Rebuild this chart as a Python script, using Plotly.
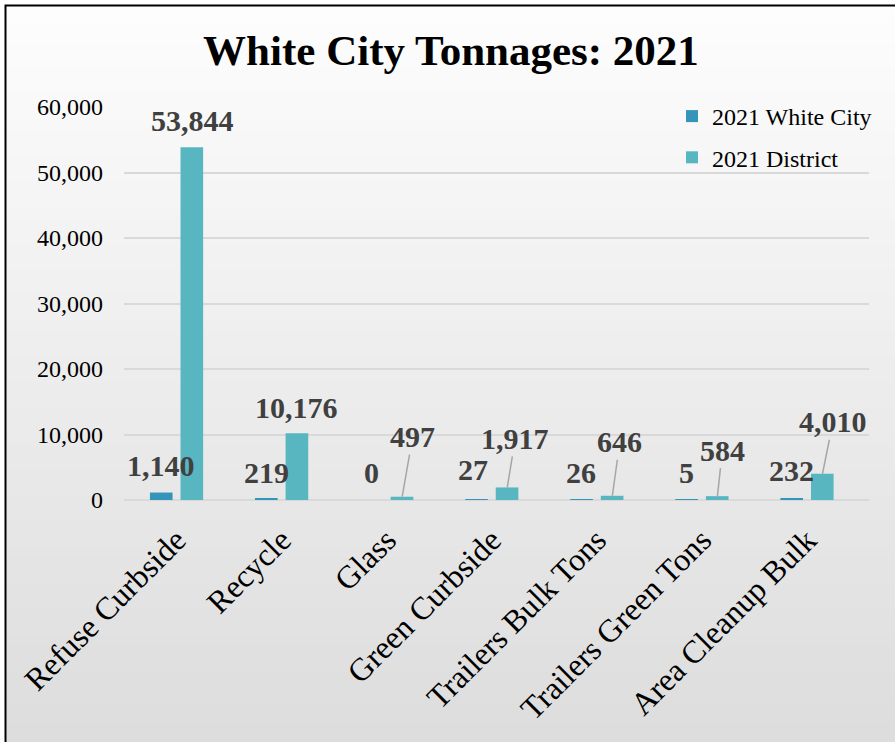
import plotly.graph_objects as go

categories = ["Refuse Curbside", "Recycle", "Glass", "Green Curbside",
              "Trailers Bulk Tons", "Trailers Green Tons", "Area Cleanup Bulk"]
white_city = [1140, 219, 0, 27, 26, 5, 232]
district = [53844, 10176, 497, 1917, 646, 584, 4010]
y_ticks = [0, 10000, 20000, 30000, 40000, 50000, 60000]

# label placement (pixel offsets from bar top), styling only
wc_dx = [0, 0, 0, -3, 0, 0, 0]
wc_dy = [-27, -26, -28, -30, -27, -27, -28]
d_dx = [0, -1, 10.5, 8, 7.5, 5, 10.5]
d_dy = [-27, -26, -60, -49, -54, -46, -52]
d_leader = [False, False, True, True, True, True, True]

W, H = 895, 742
L, R, T, B = 124, 869, 107, 500
FONT = "Liberation Serif, Times New Roman, serif"
C_WC = "#3494BA"
C_D = "#58B6C0"


def px_x(p):
    return (p - L) / (R - L)


def px_y(p):
    return (B - p) / (B - T)


fig = go.Figure()
fig.add_trace(go.Bar(x=categories, y=white_city, name="2021 White City",
                     marker=dict(color=C_WC, line=dict(width=0)), legendgroup="a"))
fig.add_trace(go.Bar(x=categories, y=district, name="2021 District",
                     marker=dict(color=C_D, line=dict(width=0)), legendgroup="b"))

shapes = []
# gradient background
n = 60
top, bot = 5, 760
for i in range(n):
    y0 = top + (bot - top) * i / n
    y1 = top + (bot - top) * (i + 1) / n + 1
    t = i / (n - 1)
    g = round(253 - 33 * t)
    shapes.append(dict(type="rect", xref="paper", yref="paper", layer="below",
                       x0=px_x(5), x1=px_x(W + 40), y0=px_y(y0), y1=px_y(y1),
                       fillcolor=f"rgb({g},{g},{g})", line=dict(width=0)))
# frame
shapes.append(dict(type="rect", xref="paper", yref="paper", layer="above",
                   x0=px_x(5.5), x1=px_x(W + 40), y0=px_y(5.5), y1=px_y(H + 40),
                   line=dict(color="black", width=2), fillcolor="rgba(0,0,0,0)"))

annotations = []
off = 15.5
lab_font = dict(family=FONT, size=30, color="#404040")
for i, c in enumerate(categories):
    annotations.append(dict(x=c, y=white_city[i], xref="x", yref="y",
                            text=f"<b>{white_city[i]:,}</b>", showarrow=False,
                            xshift=-off + wc_dx[i], yshift=-wc_dy[i],
                            font=lab_font))
    if d_leader[i]:
        annotations.append(dict(x=c, y=district[i], xref="x", yref="y",
                                text=f"<b>{district[i]:,}</b>", showarrow=True,
                                arrowhead=0, arrowwidth=1.5, arrowcolor="#a6a6a6",
                                ax=d_dx[i], ay=d_dy[i], standoff=0,
                                xshift=off, font=lab_font))
    else:
        annotations.append(dict(x=c, y=district[i], xref="x", yref="y",
                                text=f"<b>{district[i]:,}</b>", showarrow=False,
                                xshift=off + d_dx[i], yshift=-d_dy[i],
                                font=lab_font))

fig.update_layout(
    width=W, height=H,
    margin=dict(l=L, r=W - R, t=T, b=H - B, pad=0, autoexpand=False),
    paper_bgcolor="white",
    plot_bgcolor="rgba(0,0,0,0)",
    barmode="group", bargap=0.418, bargroupgap=0.26,
    title=dict(text="<b>White City Tonnages: 2021</b>", x=451 / W, xanchor="center",
               y=1 - 50 / H, yanchor="middle", yref="container",
               font=dict(family=FONT, size=43, color="black")),
    font=dict(family=FONT, color="black"),
    legend=dict(x=672 / W, y=1 - 94 / H, xref="container", yref="container",
                xanchor="left", yanchor="top",
                bgcolor="rgba(0,0,0,0)", font=dict(family=FONT, size=24, color="black"),
                traceorder="grouped", tracegroupgap=7),
    xaxis=dict(tickangle=-45, tickfont=dict(family=FONT, size=32, color="black"),
               showgrid=False, showline=False, ticks="", ticklabelstandoff=14,
               automargin=False),
    yaxis=dict(range=[0, 60000], tickvals=y_ticks, tickformat=",",
               tickfont=dict(family=FONT, size=24, color="black"),
               showgrid=True, gridcolor="#d9d9d9", gridwidth=2,
               zeroline=True, zerolinecolor="#d9d9d9", zerolinewidth=2,
               ticklabelstandoff=20, showline=False, automargin=False),
    shapes=shapes,
    annotations=annotations,
)

fig.write_html("out.html")
